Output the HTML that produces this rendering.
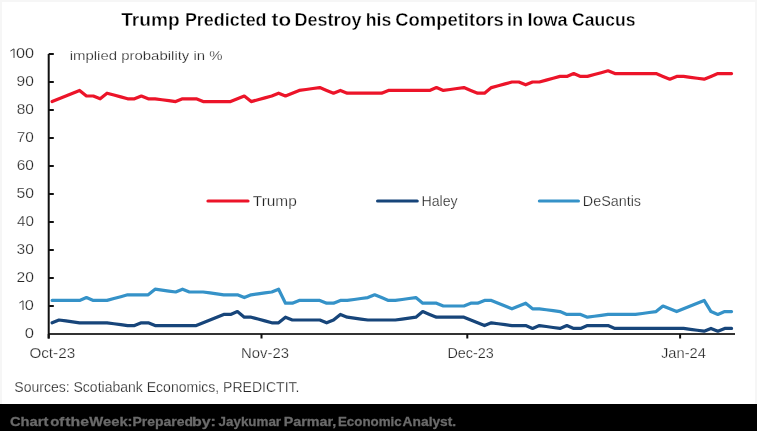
<!DOCTYPE html>
<html><head><meta charset="utf-8"><style>
html,body{margin:0;padding:0;background:#fff;}
body{width:757px;height:431px;overflow:hidden;position:relative;}
svg{position:absolute;left:0;top:0;display:block;will-change:transform;}
text{font-family:"Liberation Sans",sans-serif;}
</style></head><body>
<svg width="757" height="431" viewBox="0 0 757 431">
<rect x="0" y="0" width="757" height="431" fill="#fff"/>
<path d="M0,0H757V2H0ZM0,0H2V404H0ZM755,0H757V404H755Z" fill="#f6f6f6"/>
<text x="121.17" y="26.1" font-size="18.8" font-weight="bold" stroke="#fff" stroke-width="0.35" fill="#000" lengthAdjust="spacingAndGlyphs" textLength="58.53">Trump</text>
<text x="184.88" y="26.1" font-size="18.8" font-weight="bold" stroke="#fff" stroke-width="0.35" fill="#000" lengthAdjust="spacingAndGlyphs" textLength="81.69">Predicted</text>
<text x="271.52" y="26.1" font-size="18.8" font-weight="bold" stroke="#fff" stroke-width="0.35" fill="#000" lengthAdjust="spacingAndGlyphs" textLength="19.52">to</text>
<text x="294.54" y="26.1" font-size="18.8" font-weight="bold" stroke="#fff" stroke-width="0.35" fill="#000" lengthAdjust="spacingAndGlyphs" textLength="67.10">Destroy</text>
<text x="365.82" y="26.1" font-size="18.8" font-weight="bold" stroke="#fff" stroke-width="0.35" fill="#000" lengthAdjust="spacingAndGlyphs" textLength="25.49">his</text>
<text x="395.19" y="26.1" font-size="18.8" font-weight="bold" stroke="#fff" stroke-width="0.35" fill="#000" lengthAdjust="spacingAndGlyphs" textLength="108.67">Competitors</text>
<text x="506.91" y="26.1" font-size="18.8" font-weight="bold" stroke="#fff" stroke-width="0.35" fill="#000" lengthAdjust="spacingAndGlyphs" textLength="16.19">in</text>
<text x="527.47" y="26.1" font-size="18.8" font-weight="bold" stroke="#fff" stroke-width="0.35" fill="#000" lengthAdjust="spacingAndGlyphs" textLength="40.16">Iowa</text>
<text x="572.11" y="26.1" font-size="18.8" font-weight="bold" stroke="#fff" stroke-width="0.35" fill="#000" lengthAdjust="spacingAndGlyphs" textLength="63.28">Caucus</text>
<text x="24.74" y="337.9" font-size="14.2" stroke="#fff" stroke-width="0.25" fill="#262626" lengthAdjust="spacingAndGlyphs" textLength="9.24">0</text>
<text x="24.87" y="309.9" font-size="14.2" stroke="#fff" stroke-width="0.25" fill="#262626" lengthAdjust="spacingAndGlyphs" textLength="9.10">0</text>
<text x="16.44" y="281.9" font-size="14.2" stroke="#fff" stroke-width="0.25" fill="#262626" lengthAdjust="spacingAndGlyphs" textLength="17.38">20</text>
<text x="16.60" y="253.9" font-size="14.2" stroke="#fff" stroke-width="0.25" fill="#262626" lengthAdjust="spacingAndGlyphs" textLength="17.27">30</text>
<text x="16.94" y="225.9" font-size="14.2" stroke="#fff" stroke-width="0.25" fill="#262626" lengthAdjust="spacingAndGlyphs" textLength="16.96">40</text>
<text x="16.42" y="197.9" font-size="14.2" stroke="#fff" stroke-width="0.25" fill="#262626" lengthAdjust="spacingAndGlyphs" textLength="17.50">50</text>
<text x="16.66" y="169.9" font-size="14.2" stroke="#fff" stroke-width="0.25" fill="#262626" lengthAdjust="spacingAndGlyphs" textLength="17.22">60</text>
<text x="16.77" y="141.9" font-size="14.2" stroke="#fff" stroke-width="0.25" fill="#262626" lengthAdjust="spacingAndGlyphs" textLength="17.10">70</text>
<text x="16.66" y="113.9" font-size="14.2" stroke="#fff" stroke-width="0.25" fill="#262626" lengthAdjust="spacingAndGlyphs" textLength="17.18">80</text>
<text x="16.54" y="85.9" font-size="14.2" stroke="#fff" stroke-width="0.25" fill="#262626" lengthAdjust="spacingAndGlyphs" textLength="17.26">90</text>
<text x="15.90" y="57.9" font-size="14.2" stroke="#fff" stroke-width="0.25" fill="#262626" lengthAdjust="spacingAndGlyphs" textLength="18.10">00</text>
<text x="69.66" y="59.9" font-size="13.5" stroke="#fff" stroke-width="0.25" fill="#222" lengthAdjust="spacingAndGlyphs" textLength="152.94">implied probability in %</text>
<text x="252.80" y="205.7" font-size="14" stroke="#fff" stroke-width="0.25" fill="#222" lengthAdjust="spacingAndGlyphs" textLength="43.98">Trump</text>
<text x="421.42" y="205.7" font-size="14" stroke="#fff" stroke-width="0.25" fill="#222" lengthAdjust="spacingAndGlyphs" textLength="36.28">Haley</text>
<text x="582.83" y="205.7" font-size="14" stroke="#fff" stroke-width="0.25" fill="#222" lengthAdjust="spacingAndGlyphs" textLength="58.17">DeSantis</text>
<text x="29.42" y="357.8" font-size="14.2" stroke="#fff" stroke-width="0.25" fill="#222" lengthAdjust="spacingAndGlyphs" textLength="45.70">Oct-23</text>
<text x="241.00" y="357.8" font-size="14.2" stroke="#fff" stroke-width="0.25" fill="#222" lengthAdjust="spacingAndGlyphs" textLength="47.93">Nov-23</text>
<text x="447.45" y="357.8" font-size="14.2" stroke="#fff" stroke-width="0.25" fill="#222" lengthAdjust="spacingAndGlyphs" textLength="46.40">Dec-23</text>
<text x="661.06" y="357.8" font-size="14.2" stroke="#fff" stroke-width="0.25" fill="#222" lengthAdjust="spacingAndGlyphs" textLength="44.82">Jan-24</text>
<text x="14.31" y="392.0" font-size="14" stroke="#fff" stroke-width="0.25" fill="#222" lengthAdjust="spacingAndGlyphs" textLength="285.14">Sources: Scotiabank Economics, PREDICTIT.</text>
<path d="M10.4,51.0L14.0,48.9V57.9M19.4,302.9L23.0,300.8V309.9" stroke="#3a3a3a" stroke-width="1.0" fill="none" stroke-linejoin="round"/>
<path d="M735,334H48.7" stroke="#333" stroke-width="2" fill="none"/>
<path d="M48.7,334V338.5M261.5,334V338.5M467.3,334V338.5M680.1,334V338.5" stroke="#111" stroke-width="2" fill="none"/>
<path d="M48.7,338.5V54M48.7,306.0H53.8M48.7,278.0H53.8M48.7,250.0H53.8M48.7,222.0H53.8M48.7,194.0H53.8M48.7,166.0H53.8M48.7,138.0H53.8M48.7,110.0H53.8M48.7,82.0H53.8M48.7,54.0H53.8" stroke="#111" stroke-width="2" fill="none"/>
<g fill="none" stroke-width="3.2" stroke-linejoin="round" stroke-linecap="round">
<polyline points="52.13,300.40 58.99,300.40 65.86,300.40 72.72,300.40 79.58,300.40 86.45,297.60 93.31,300.40 100.17,300.40 107.04,300.40 113.90,298.52 120.76,296.68 127.62,294.80 134.49,294.80 141.35,294.80 148.21,294.80 155.08,289.20 161.94,290.12 168.80,291.08 175.67,292.00 182.53,289.20 189.39,292.00 196.25,292.00 203.12,292.00 209.98,292.92 216.84,293.88 223.71,294.80 230.57,294.80 237.43,294.80 244.30,297.60 251.16,294.80 258.02,293.88 264.88,292.92 271.75,292.00 278.61,289.20 285.47,303.20 292.34,303.20 299.20,300.40 306.06,300.40 312.93,300.40 319.79,300.40 326.65,303.20 333.51,303.20 340.38,300.40 347.24,300.40 354.10,299.48 360.97,298.52 367.83,297.60 374.69,294.80 381.56,297.60 388.42,300.40 395.28,300.40 402.14,299.48 409.01,298.52 415.87,297.60 422.73,303.20 429.60,303.20 436.46,303.20 443.32,306.00 450.19,306.00 457.05,306.00 463.91,306.00 470.77,303.20 477.64,303.20 484.50,300.40 491.36,300.40 498.23,303.20 505.09,306.00 511.95,308.80 518.82,306.00 525.68,303.20 532.54,308.80 539.40,308.80 546.27,309.72 553.13,310.68 559.99,311.60 566.86,314.40 573.72,314.40 580.58,314.40 587.45,317.20 594.31,316.28 601.17,315.32 608.03,314.40 614.90,314.40 621.76,314.40 628.62,314.40 635.49,314.40 642.35,313.48 649.21,312.52 656.08,311.60 662.94,306.00 669.80,308.80 676.66,311.60 683.53,308.80 690.39,306.00 697.25,303.20 704.12,300.40 710.98,311.60 717.84,314.40 724.71,311.60 731.57,311.60" stroke="#3592C8"/>
<polyline points="52.13,322.80 58.99,320.00 65.86,320.92 72.72,321.88 79.58,322.80 86.45,322.80 93.31,322.80 100.17,322.80 107.04,322.80 113.90,323.72 120.76,324.68 127.62,325.60 134.49,325.60 141.35,322.80 148.21,322.80 155.08,325.60 161.94,325.60 168.80,325.60 175.67,325.60 182.53,325.60 189.39,325.60 196.25,325.60 203.12,322.80 209.98,320.00 216.84,317.20 223.71,314.40 230.57,314.40 237.43,311.60 244.30,317.20 251.16,317.20 258.02,319.08 264.88,320.92 271.75,322.80 278.61,322.80 285.47,317.20 292.34,320.00 299.20,320.00 306.06,320.00 312.93,320.00 319.79,320.00 326.65,322.80 333.51,320.00 340.38,314.40 347.24,317.20 354.10,318.12 360.97,319.08 367.83,320.00 374.69,320.00 381.56,320.00 388.42,320.00 395.28,320.00 402.14,319.08 409.01,318.12 415.87,317.20 422.73,311.60 429.60,314.40 436.46,317.20 443.32,317.20 450.19,317.20 457.05,317.20 463.91,317.20 470.77,320.00 477.64,322.80 484.50,325.60 491.36,322.80 498.23,323.72 505.09,324.68 511.95,325.60 518.82,325.60 525.68,325.60 532.54,328.40 539.40,325.60 546.27,326.52 553.13,327.48 559.99,328.40 566.86,325.60 573.72,328.40 580.58,328.40 587.45,325.60 594.31,325.60 601.17,325.60 608.03,325.60 614.90,328.40 621.76,328.40 628.62,328.40 635.49,328.40 642.35,328.40 649.21,328.40 656.08,328.40 662.94,328.40 669.80,328.40 676.66,328.40 683.53,328.40 690.39,329.32 697.25,330.28 704.12,331.20 710.98,328.40 717.84,331.20 724.71,328.40 731.57,328.40" stroke="#17457A"/>
<polyline points="52.13,101.60 58.99,98.80 65.86,96.00 72.72,93.20 79.58,90.40 86.45,96.00 93.31,96.00 100.17,98.80 107.04,93.20 113.90,95.08 120.76,96.92 127.62,98.80 134.49,98.80 141.35,96.00 148.21,98.80 155.08,98.80 161.94,99.72 168.80,100.68 175.67,101.60 182.53,98.80 189.39,98.80 196.25,98.80 203.12,101.60 209.98,101.60 216.84,101.60 223.71,101.60 230.57,101.60 237.43,98.80 244.30,96.00 251.16,101.60 258.02,99.72 264.88,97.88 271.75,96.00 278.61,93.20 285.47,96.00 292.34,93.20 299.20,90.40 306.06,89.48 312.93,88.52 319.79,87.60 326.65,90.40 333.51,93.20 340.38,90.40 347.24,93.20 354.10,93.20 360.97,93.20 367.83,93.20 374.69,93.20 381.56,93.20 388.42,90.40 395.28,90.40 402.14,90.40 409.01,90.40 415.87,90.40 422.73,90.40 429.60,90.40 436.46,87.60 443.32,90.40 450.19,89.48 457.05,88.52 463.91,87.60 470.77,90.40 477.64,93.20 484.50,93.20 491.36,87.60 498.23,85.72 505.09,83.88 511.95,82.00 518.82,82.00 525.68,84.80 532.54,82.00 539.40,82.00 546.27,80.12 553.13,78.28 559.99,76.40 566.86,76.40 573.72,73.60 580.58,76.40 587.45,76.40 594.31,74.52 601.17,72.68 608.03,70.80 614.90,73.60 621.76,73.60 628.62,73.60 635.49,73.60 642.35,73.60 649.21,73.60 656.08,73.60 662.94,76.40 669.80,79.20 676.66,76.40 683.53,76.40 690.39,77.32 697.25,78.28 704.12,79.20 710.98,76.40 717.84,73.60 724.71,73.60 731.57,73.60" stroke="#EC1429"/>
<path d="M208,201H248" stroke="#EC1429"/>
<path d="M377.6,201H417.2" stroke="#17457A"/>
<path d="M539.4,201H578.4" stroke="#3592C8"/>
</g>
<rect x="0" y="404" width="757" height="27" fill="#000"/>
<text x="9.95" y="426.3" font-size="13.2" font-weight="bold" stroke="#6b6b6b" stroke-width="0.3" fill="#6b6b6b" lengthAdjust="spacingAndGlyphs" textLength="38.44">Chart</text>
<text x="50.20" y="426.3" font-size="13.2" font-weight="bold" stroke="#6b6b6b" stroke-width="0.3" fill="#6b6b6b" lengthAdjust="spacingAndGlyphs" textLength="14.11">of</text>
<text x="65.27" y="426.3" font-size="13.2" font-weight="bold" stroke="#6b6b6b" stroke-width="0.3" fill="#6b6b6b" lengthAdjust="spacingAndGlyphs" textLength="23.70">the</text>
<text x="89.32" y="426.3" font-size="13.2" font-weight="bold" stroke="#6b6b6b" stroke-width="0.3" fill="#6b6b6b" lengthAdjust="spacingAndGlyphs" textLength="43.22">Week:</text>
<text x="132.40" y="426.3" font-size="13.2" font-weight="bold" stroke="#6b6b6b" stroke-width="0.3" fill="#6b6b6b" lengthAdjust="spacingAndGlyphs" textLength="60.59">Prepared</text>
<text x="192.01" y="426.3" font-size="13.2" font-weight="bold" stroke="#6b6b6b" stroke-width="0.3" fill="#6b6b6b" lengthAdjust="spacingAndGlyphs" textLength="23.90">by:</text>
<text x="218.61" y="426.3" font-size="13.2" font-weight="bold" stroke="#6b6b6b" stroke-width="0.3" fill="#6b6b6b" lengthAdjust="spacingAndGlyphs" textLength="62.45">Jaykumar</text>
<text x="283.72" y="426.3" font-size="13.2" font-weight="bold" stroke="#6b6b6b" stroke-width="0.3" fill="#6b6b6b" lengthAdjust="spacingAndGlyphs" textLength="52.53">Parmar,</text>
<text x="337.97" y="426.3" font-size="13.2" font-weight="bold" stroke="#6b6b6b" stroke-width="0.3" fill="#6b6b6b" lengthAdjust="spacingAndGlyphs" textLength="63.79">Economic</text>
<text x="402.64" y="426.3" font-size="13.2" font-weight="bold" stroke="#6b6b6b" stroke-width="0.3" fill="#6b6b6b" lengthAdjust="spacingAndGlyphs" textLength="53.57">Analyst.</text>
</svg>
</body></html>
